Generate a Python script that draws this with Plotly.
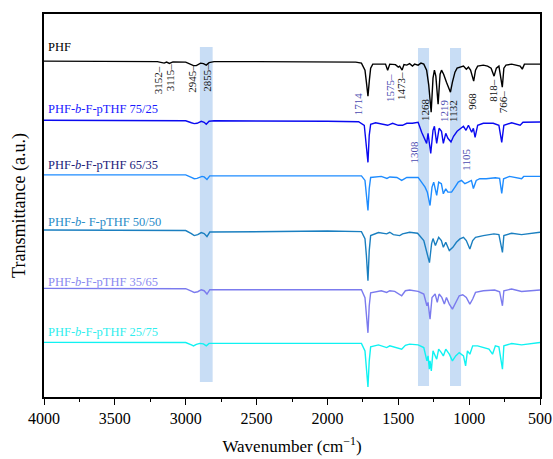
import plotly.graph_objects as go

# ---------------- data ----------------
names = ["PHF", "PHF-<i>b</i>-F-pTHF 75/25", "PHF-<i>b</i>-F-pTHF 65/35",
         "PHF-<i>b</i>- F-pTHF 50/50", "PHF-<i>b</i>-F-pTHF 35/65", "PHF-<i>b</i>-F-pTHF 25/75"]

phf_wn = [4000, 3600, 3300, 3200, 3152, 3135, 3115, 3090, 3000, 2960, 2945, 2925, 2895, 2875, 2855, 2835,
          2800, 2500, 2000, 1800, 1760, 1735, 1725, 1714, 1704, 1695, 1680, 1620, 1590, 1575, 1560, 1520,
          1500, 1490, 1473, 1460, 1440, 1420, 1400, 1385, 1360, 1340, 1320, 1300, 1285, 1268, 1255, 1245,
          1235, 1219, 1205, 1195, 1180, 1160, 1145, 1132, 1118, 1100, 1085, 1060, 1040, 1020, 1005, 990,
          968, 955, 940, 900, 870, 845, 824, 808, 790, 766, 755, 740, 700, 640, 625, 610, 500]
phf_t = [33.5, 33.5, 33.45, 33.45, 33.3, 33.4, 33.27, 33.42, 33.4, 33.15, 33.05, 33.05, 33.3, 33.25, 33.1, 33.35,
         33.45, 33.45, 33.45, 33.4, 33.3, 32.6, 31.4, 30.0, 31.6, 32.8, 33.2, 33.25, 33.2, 32.6, 33.2, 33.15,
         32.9, 33.0, 32.6, 33.15, 33.1, 33.25, 33.0, 33.2, 33.1, 33.3, 33.2, 32.6, 31.1, 28.4, 31.8, 32.6,
         32.0, 29.2, 32.2, 32.6, 32.2, 31.4, 30.8, 30.4, 31.4, 32.4, 32.8, 32.9, 33.0, 32.7, 32.9, 32.6,
         31.5, 32.6, 33.0, 33.1, 33.0, 32.8, 32.0, 32.8, 33.0, 30.9, 32.8, 33.1, 33.2, 33.0, 32.7, 33.2, 33.2]

s75_wn = [4000, 3500, 3000, 2960, 2940, 2920, 2890, 2870, 2855, 2835, 2800, 2000, 1780, 1740, 1728, 1714,
          1705, 1695, 1660, 1575, 1540, 1500, 1470, 1440, 1400, 1360, 1335, 1300, 1290, 1271, 1255, 1245,
          1229, 1212, 1195, 1182, 1165, 1150, 1128, 1110, 1085, 1060, 1040, 1022, 1005, 982, 970, 958,
          940, 900, 830, 790, 770, 755, 700, 640, 620, 500]
s75_t = [27.6, 27.6, 27.55, 27.35, 27.27, 27.3, 27.5, 27.4, 27.2, 27.5, 27.55, 27.5, 27.45, 27.1, 25.6, 23.4,
         26.1, 27.2, 27.35, 27.1, 27.3, 27.1, 27.1, 27.3, 27.3, 27.4, 26.4, 25.3, 26.3, 24.3, 26.6, 27.0,
         25.3, 26.8, 26.5, 25.3, 26.3, 25.8, 25.43, 26.0, 26.5, 26.8, 27.0, 26.6, 27.1, 26.4, 26.8, 25.9,
         27.1, 27.3, 27.3, 27.1, 25.4, 27.1, 27.35, 27.1, 27.4, 27.43]

s65_wn = [4000, 3000, 2960, 2940, 2920, 2885, 2870, 2850, 2830, 2000, 1760, 1735, 1725, 1714, 1705, 1695,
          1620, 1580, 1560, 1510, 1476, 1440, 1400, 1360, 1311, 1295, 1276, 1262, 1250, 1229, 1215, 1196,
          1182, 1165, 1150, 1124, 1100, 1077, 1054, 1030, 1007, 984, 970, 950, 925, 880, 815, 785, 770,
          757, 715, 630, 615, 500]
s65_t = [22.15, 22.15, 21.9, 21.77, 21.8, 22.0, 21.95, 21.7, 22.05, 22.1, 22.05, 21.6, 20.4, 18.6, 20.8, 21.9,
         22.0, 21.8, 21.95, 21.9, 21.6, 21.9, 21.9, 21.9, 20.93, 20.43, 19.1, 20.93, 21.43, 20.1, 21.43, 21.27,
         20.27, 20.77, 20.43, 20.43, 20.93, 21.43, 21.6, 21.27, 21.43, 21.6, 20.8, 21.6, 21.77, 21.77, 21.87, 21.8, 20.3,
         21.77, 22.0, 21.77, 22.0, 22.0]

s50_wn = [4000, 3000, 2960, 2940, 2915, 2890, 2870, 2850, 2830, 2000, 1760, 1735, 1725, 1714, 1705, 1695,
          1640, 1582, 1560, 1535, 1490, 1470, 1420, 1364, 1320, 1300, 1280, 1265, 1255, 1238, 1215, 1196,
          1182, 1165, 1140, 1115, 1090, 1065, 1040, 1020, 995, 975, 955, 900, 825, 790, 765, 755, 700, 630, 500]
s50_t = [16.65, 16.6, 16.3, 16.1, 16.2, 16.4, 16.3, 16.0, 16.45, 16.55, 16.5, 15.8, 14.1, 11.6, 14.6, 16.1,
         16.4, 16.27, 16.43, 16.2, 16.1, 16.27, 16.43, 16.33, 15.6, 14.6, 13.4, 15.3, 15.8, 15.1, 15.93, 15.6,
         14.93, 15.43, 14.6, 14.93, 15.43, 15.77, 15.93, 15.6, 14.77, 15.6, 15.93, 16.1, 16.27, 16.2, 14.43, 16.1,
         16.33, 16.2, 16.43]

s35_wn = [4000, 3000, 2960, 2940, 2915, 2890, 2870, 2850, 2830, 2000, 1760, 1735, 1725, 1714, 1705, 1695,
          1620, 1582, 1560, 1525, 1476, 1450, 1420, 1360, 1320, 1298, 1290, 1276, 1262, 1240, 1225, 1212,
          1193, 1175, 1160, 1140, 1118, 1095, 1070, 1045, 1020, 995, 975, 955, 900, 820, 785, 765, 755,
          700, 630, 500]
s35_t = [10.83, 10.8, 10.55, 10.43, 10.5, 10.7, 10.6, 10.27, 10.7, 10.75, 10.7, 9.9, 8.4, 6.4, 9.1, 10.4,
         10.6, 10.43, 10.6, 10.53, 10.1, 10.6, 10.67, 10.53, 10.27, 9.1, 9.43, 7.77, 9.93, 10.27, 9.43, 10.27,
         9.93, 9.27, 9.93, 9.27, 8.77, 9.43, 10.1, 10.2, 9.93, 9.27, 9.77, 10.43, 10.6, 10.67, 10.5, 9.1, 10.6,
         10.77, 10.53, 10.67]

s25_wn = [4000, 3000, 2960, 2945, 2925, 2900, 2875, 2855, 2835, 2000, 1760, 1735, 1725, 1714, 1705, 1695,
          1640, 1582, 1560, 1525, 1476, 1450, 1420, 1360, 1320, 1298, 1290, 1281, 1276, 1267, 1255, 1229,
          1215, 1196, 1182, 1165, 1140, 1118, 1095, 1070, 1040, 1025, 1012, 995, 975, 940, 860, 835, 815,
          790, 765, 755, 700, 630, 500]
s25_t = [5.45, 5.43, 5.2, 5.1, 5.25, 5.35, 5.3, 5.1, 5.35, 5.4, 5.35, 4.6, 3.1, 1.0, 3.6, 5.0,
         5.2, 4.93, 5.1, 4.93, 4.77, 5.15, 5.27, 5.2, 4.93, 3.6, 4.1, 2.77, 3.6, 2.6, 4.6, 3.77,
         4.77, 4.43, 4.1, 4.77, 4.27, 3.6, 4.1, 4.43, 4.1, 3.1, 4.6, 4.27, 5.1, 5.1, 4.77, 4.27, 5.1,
         5.0, 2.77, 5.1, 5.33, 5.2, 5.43]

series_wn = [phf_wn, s75_wn, s65_wn, s50_wn, s35_wn, s25_wn]
series_t = [phf_t, s75_t, s65_t, s50_t, s35_t, s25_t]

# highlighted bands (wavenumber ranges)
band_lo = [2810, 1283, 1057]
band_hi = [2900, 1361, 1135]

# peak labels: text, x (cm-1), y (a.u.), colour group (0 black, 1 blue)
peak_text = ["3152–", "3115–", "2945–", "2855–", "1714", "1575–", "1473–", "1268", "1219",
             "1132", "968", "818–", "766–", "1308", "1105"]
peak_x = [3195, 3114, 2952, 2850, 1784, 1563, 1483, 1313, 1182, 1109, 976, 827, 761, 1388, 1020]
peak_y = [31.6, 31.85, 31.7, 31.85, 29.2, 30.85, 31.0, 28.7, 28.55, 28.5, 29.5, 30.6, 29.4, 24.4, 23.7]
peak_grp = [0, 0, 0, 0, 1, 1, 0, 0, 1, 0, 0, 0, 0, 1, 1]

xticks = [4000, 3500, 3000, 2500, 2000, 1500, 1000, 500]

# ---------------- styles ----------------
line_colors = ["#000000", "#0a0af0", "#1e8cff", "#1a7fc0", "#7b7bee", "#10f2f2"]
label_colors = ["#000000", "#1a1aff", "#22227a", "#2a8cc8", "#8a8af0", "#30eeee"]
label_y = [34.9, 28.7, 23.1, 17.5, 11.5, 6.5]
grp_colors = ["#111111", "#4b4bb0"]
serif = "Liberation Serif"

fig = go.Figure()

for lo, hi, y0, y1 in zip(band_lo, band_hi, [1.5, 1.1, 1.1], [34.9, 34.8, 34.8]):
    fig.add_shape(type="rect", x0=lo, x1=hi, y0=y0, y1=y1, xref="x", yref="y",
                  fillcolor="#c8ddf5", line_width=0, layer="below")

for wn, t, c in zip(series_wn, series_t, line_colors):
    fig.add_trace(go.Scatter(x=wn, y=t, mode="lines", line=dict(color=c, width=1.4),
                             showlegend=False, hoverinfo="skip"))

for n, c, ly in zip(names, label_colors, label_y):
    fig.add_annotation(x=3985, y=ly, text=n, showarrow=False, xanchor="left", yanchor="middle",
                       font=dict(family=serif, size=12.5, color=c))

for txt, px, py, g in zip(peak_text, peak_x, peak_y, peak_grp):
    fig.add_annotation(x=px, y=py, text=txt, showarrow=False, textangle=-90,
                       xanchor="center", yanchor="middle",
                       font=dict(family=serif, size=11, color=grp_colors[g]))

fig.update_layout(
    width=553, height=459,
    margin=dict(l=44, r=13, t=14, b=62, autoexpand=False),
    plot_bgcolor="white", paper_bgcolor="white",
    font=dict(family=serif, color="black"),
    xaxis=dict(range=[4000, 500], tickvals=xticks, ticktext=[str(v) for v in xticks],
               automargin=False,
               ticks="outside", ticklen=6, tickwidth=1.2, tickcolor="black",
               minor=dict(dtick=250, ticks="outside", ticklen=3, tickwidth=1.2, tickcolor="black"),
               showline=True, linecolor="black", linewidth=1.5, mirror=True,
               showgrid=False, zeroline=False, tickfont=dict(size=16, family=serif),
               title=dict(text="Wavenumber (cm<sup>−1</sup>)", font=dict(size=17, family=serif), standoff=14)),
    yaxis=dict(range=[0, 38.2], showticklabels=False, ticks="", automargin=False,
               showline=True, linecolor="black", linewidth=1.5, mirror=True,
               showgrid=False, zeroline=False,
               title=dict(text="Transmittance (a.u.)", font=dict(size=18, family=serif), standoff=12)),
)

fig.write_html("out.html")
